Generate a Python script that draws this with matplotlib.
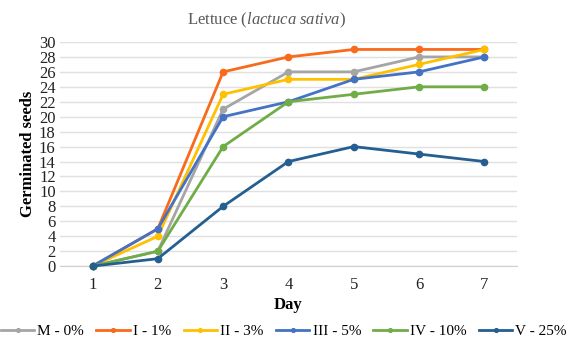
import matplotlib.pyplot as plt

# germination data for lettuce
days = [1, 2, 3, 4, 5, 6, 7]
m_0 = [0, 2, 21, 26, 26, 28, 28]
i_1 = [0, 5, 26, 28, 29, 29, 29]
ii_3 = [0, 4, 23, 25, 25, 27, 29]
iii_5 = [0, 5, 20, 22, 25, 26, 28]
iv_10 = [0, 2, 16, 22, 23, 24, 24]
v_25 = [0, 1, 8, 14, 16, 15, 14]

labels = ['M - 0%', 'I - 1%', 'II - 3%', 'III - 5%', 'IV - 10%', 'V - 25%']
colors = ['#A5A5A5', '#F86A1C', '#FFC000', '#4472C4', '#70AD47', '#255E91']

plt.rcParams['font.family'] = ['Liberation Serif', 'DejaVu Serif']
plt.rcParams['mathtext.fontset'] = 'custom'
plt.rcParams['mathtext.it'] = 'Liberation Serif:italic'
plt.rcParams['mathtext.rm'] = 'Liberation Serif'

fig = plt.figure(figsize=(5.7, 3.47), dpi=100)
ax = fig.add_axes([0.105, 0.233, 0.802, 0.646])

for vals, lab, c in zip([m_0, i_1, ii_3, iii_5, iv_10, v_25], labels, colors):
    ax.plot(days, vals, color=c, lw=2, marker='o', ms=4.5, label=lab, clip_on=False, zorder=3)

ax.set_xlim(0.5, 7.5)
ax.set_ylim(0, 30)
ax.set_yticks(range(0, 31, 2))
ax.set_xticks(days)
ax.tick_params(length=0, labelsize=12, colors='#222222')
ax.tick_params(axis='x', pad=8)
ax.tick_params(axis='y', pad=3)
ax.grid(axis='y', color='#E0E0E0', lw=1)
ax.set_axisbelow(True)
for s in ['top', 'right', 'left']:
    ax.spines[s].set_visible(False)
ax.spines['bottom'].set_color('#D0D0D0')

fig.text(0.468, 0.94, 'Lettuce ($\\it{lactuca\\ sativa}$)', fontsize=12, color='#595959',
         ha='center', va='center')
ax.set_xlabel('Day', fontsize=12, fontweight='bold', labelpad=3)
ax.set_ylabel('Germinated seeds', fontsize=12, fontweight='bold', labelpad=2)

ax.legend(loc='upper center', bbox_to_anchor=(0.49, -0.2), ncol=6, frameon=False,
          fontsize=11, handlelength=2.2, handletextpad=0.2, columnspacing=0.8,
          markerscale=0.6)

fig.savefig('out.png', dpi=100)
